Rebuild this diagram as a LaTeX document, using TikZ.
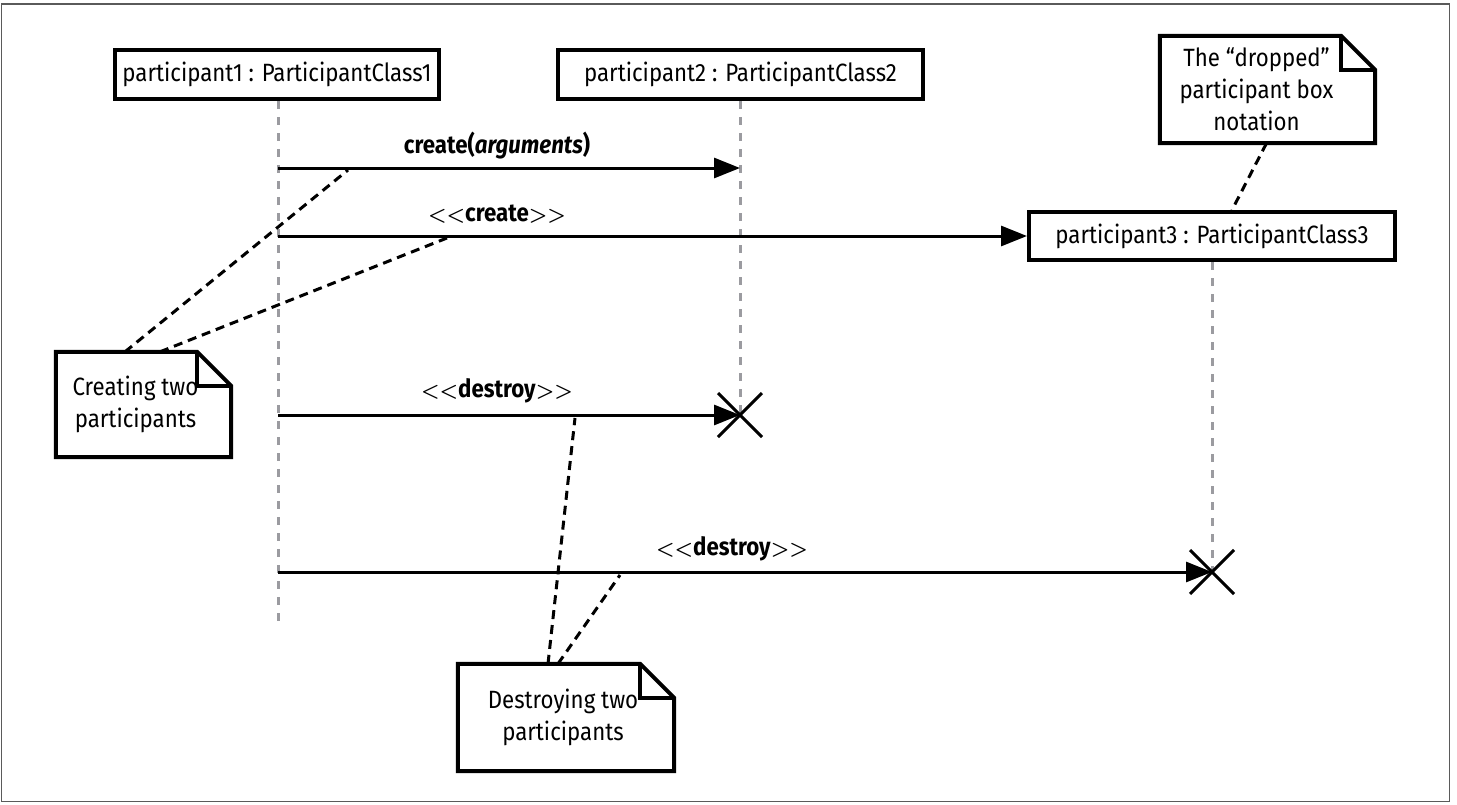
\documentclass[tikz,border=0pt]{standalone}
\usepackage{fontspec}
\setmainfont{Fira Sans}[FakeStretch=0.89, Ligatures=TeXOff]
\usetikzlibrary{arrows.meta, calc}
\definecolor{lifegray}{RGB}{155, 155, 160}
\definecolor{framegray}{RGB}{90, 90, 90}

% stereotype brackets
\newcommand{\ltsign}{{\fontsize{22}{22}\selectfont\boldmath$<$}}
\newcommand{\gtsign}{{\fontsize{22}{22}\selectfont\boldmath$>$}}
\newcommand{\stereo}[1]{\ltsign\ltsign\textbf{#1}\gtsign\gtsign}

% folded corner of a note node
\newcommand{\dogear}[1]{%
  \draw[line width=4pt, line join=miter] (#1.south west) -- (#1.north west)
    -- ($(#1.north east)+(-34pt,0)$) -- ($(#1.north east)+(0,-34pt)$)
    -- (#1.south east) -- cycle;
  \draw[line width=4pt, line join=miter] ($(#1.north east)+(-34pt,0)$)
    -- ($(#1.north east)+(-34pt,-34pt)$) -- ($(#1.north east)+(0,-34pt)$);
}

\tikzset{
  txt/.style={font=\fontsize{25}{32}\selectfont},
  part/.style={txt, draw, line width=4pt, fill=white, inner sep=0pt},
  notebox/.style={inner sep=0pt},
  note/.style={txt, align=center, inner sep=0pt},
  msg/.style={line width=3pt, -{Triangle[length=26pt, width=20pt]}},
  lifeline/.style={lifegray, line width=3pt, dash pattern=on 8pt off 8pt},
  comment/.style={line width=3pt, dash pattern=on 9pt off 6pt},
  kill/.style={line width=3pt}
}

\begin{document}
\begin{tikzpicture}[x=1pt, y=-1pt]
  \useasboundingbox (0,0) rectangle (1457,804);
  \draw[framegray, line width=1.5pt] (1.5,4) rectangle (1449.5,801.5);

  % participants
  \node[part, minimum width=324pt, minimum height=49pt] (p1) at (277,74.5) {participant1 : ParticipantClass1};
  \node[part, minimum width=365pt, minimum height=49pt] (p2) at (740.5,74.5) {participant2 : ParticipantClass2};
  \node[part, minimum width=366pt, minimum height=48pt] (p3) at (1212,236) {participant3 : ParticipantClass3};

  % message ends
  \coordinate (c1a) at (278,168);
  \coordinate (c1b) at (740,168);
  \coordinate (c2a) at (278,236);
  \coordinate (d1a) at (278,415);
  \coordinate (d1b) at (740,415);
  \coordinate (d2a) at (278,572);
  \coordinate (d2b) at (1212,572);
  \coordinate (p1end) at (278,625);

  % lifelines
  \draw[lifeline] (p1.south -| c1a) -- (p1end);
  \draw[lifeline] (p2.south -| c1b) -- (d1b);
  \draw[lifeline] (p3.south) -- (d2b);

  % messages
  \draw[msg] (c1a) -- (c1b);
  \node[txt] (m1) at (497,146) {\textbf{create(\textit{arguments})}};
  \draw[msg] (c2a) -- (p3.west);
  \node[txt] (m2) at (497,214) {\stereo{create}};
  \draw[msg] (d1a) -- (d1b);
  \node[txt] (m3) at (497,391) {\stereo{destroy}};
  \draw[msg] (d2a) -- (d2b);
  \node[txt] (m4) at (732,549) {\stereo{destroy}};

  % destruction marks
  \draw[kill] ($(d1b)+(-22pt,22pt)$) -- ($(d1b)+(22pt,-22pt)$);
  \draw[kill] ($(d1b)+(-22pt,-22pt)$) -- ($(d1b)+(22pt,22pt)$);
  \draw[kill] ($(d2b)+(-22pt,22pt)$) -- ($(d2b)+(22pt,-22pt)$);
  \draw[kill] ($(d2b)+(-22pt,-22pt)$) -- ($(d2b)+(22pt,22pt)$);

  % notes
  \node[notebox, minimum width=175pt, minimum height=105pt] (createnote) at (143.5,404.5) {};
  \dogear{createnote}
  \node[note] (createtext) at ($(createnote.center)+(-8pt,0)$) {Creating two\\participants};
  \node[notebox, minimum width=216pt, minimum height=107pt] (destroynote) at (566,717.5) {};
  \dogear{destroynote}
  \node[note] (destroytext) at ($(destroynote.center)+(-3pt,0)$) {Destroying two\\participants};
  \node[notebox, minimum width=215pt, minimum height=107pt] (dropnote) at (1267.5,89.5) {};
  \dogear{dropnote}
  \node[note] (droptext) at ($(dropnote.center)+(-11pt,0)$) {The “dropped”\\participant box\\notation};

  % note links
  \coordinate (l1) at (348,170);
  \coordinate (l2) at (447,238);
  \coordinate (l3) at (575,418);
  \coordinate (l4) at (620,575);
  \draw[comment] ($(createnote.north)+(-18.5pt,0)$) -- (l1);
  \draw[comment] ($(createnote.north)+(16.5pt,0)$) -- (l2);
  \draw[comment] ($(destroynote.north)+(-18pt,0)$) -- (l3);
  \draw[comment] ($(destroynote.north)+(-8pt,0)$) -- (l4);
  \draw[comment] ($(dropnote.south)+(-1pt,0)$) -- (p3.north -| 1232,0);
\end{tikzpicture}
\end{document}
